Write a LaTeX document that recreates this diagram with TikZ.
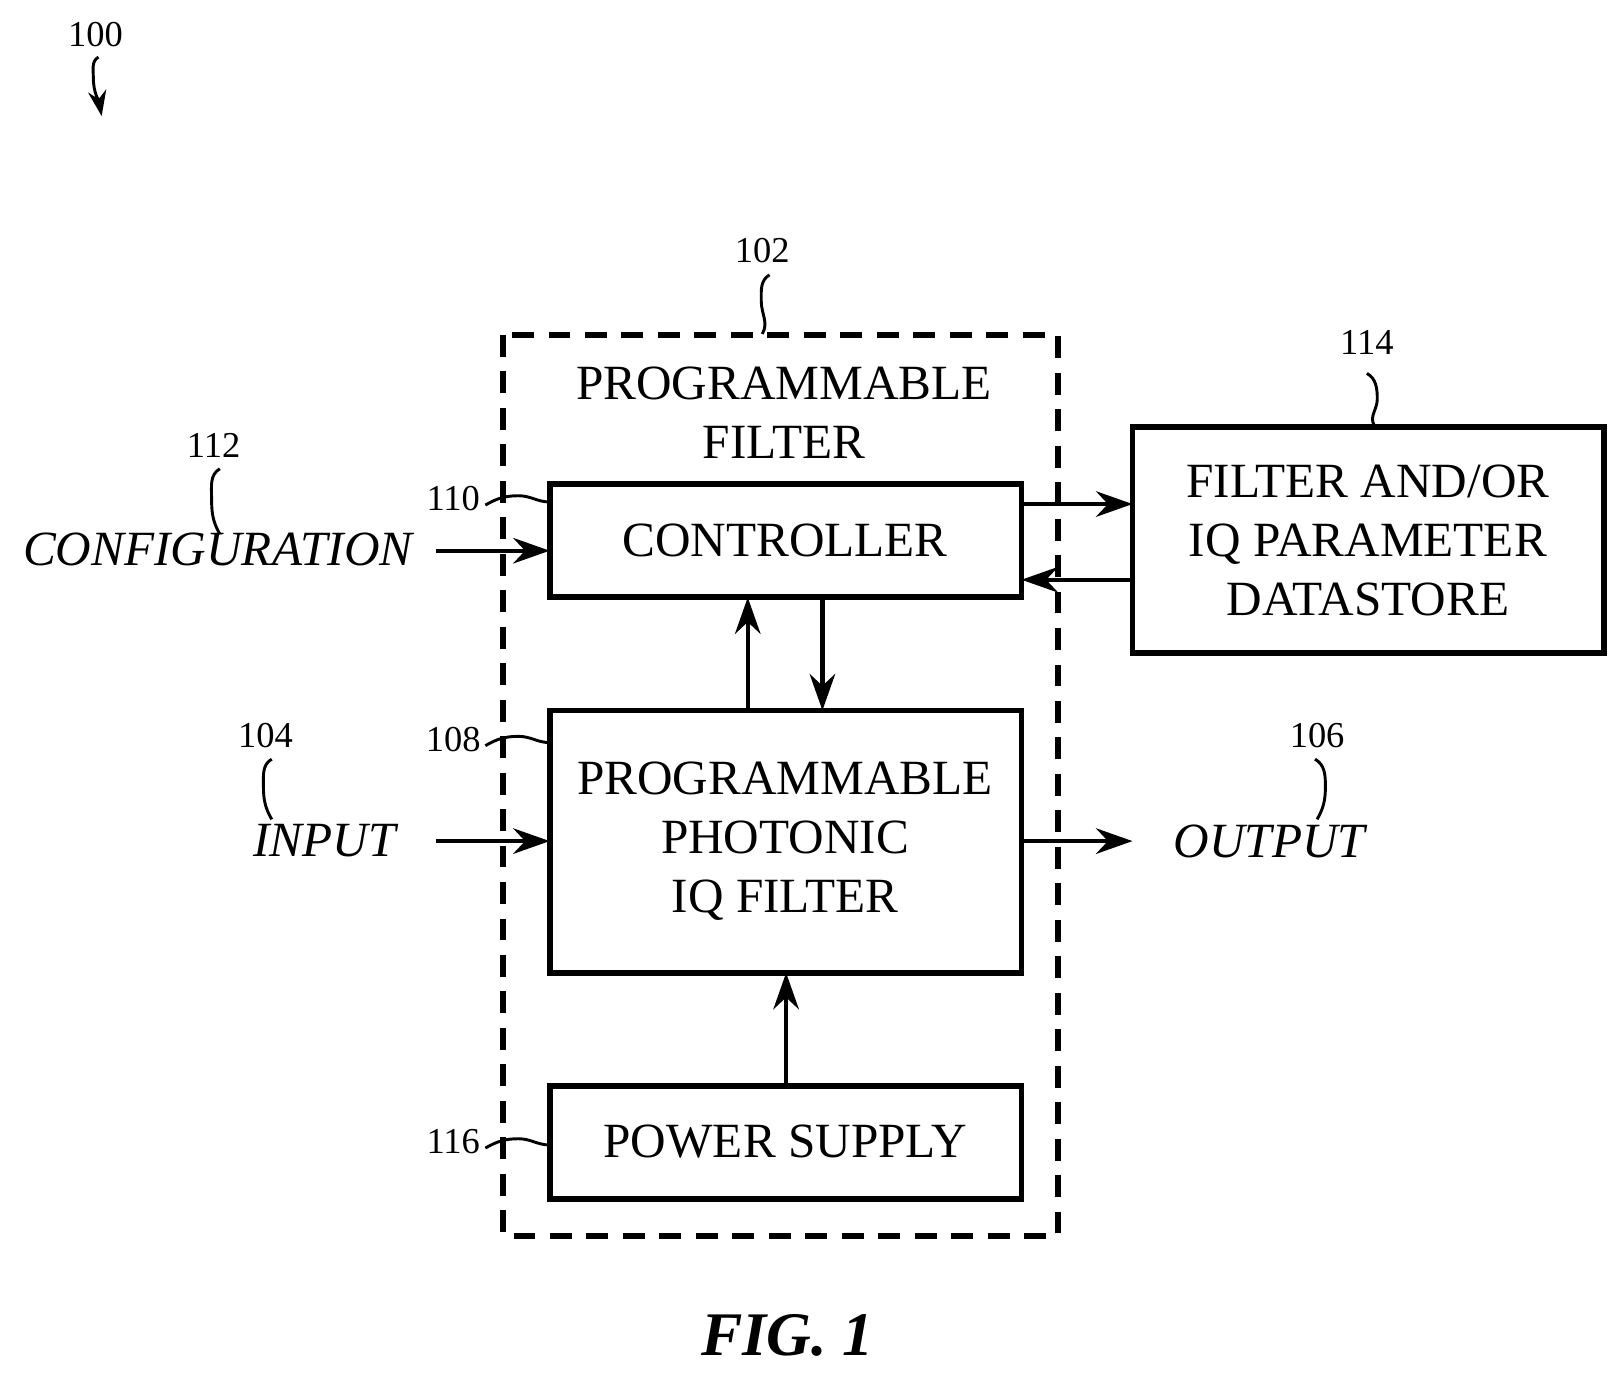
\documentclass[tikz,border=0pt]{standalone}
\usepackage{fontspec}
\setmainfont{Liberation Serif}
\usetikzlibrary{arrows.meta}
\begin{document}
\begin{tikzpicture}[x=0.01cm,y=-0.01cm,
    blk/.style={draw,line width=1.6pt,inner sep=0pt},
    txt/.style={font=\fontsize{13.5}{16.2}\selectfont,align=center},
    ref/.style={font=\fontsize{10}{12}\selectfont},
    sig/.style={font=\fontsize{13.5}{14.5}\selectfont\itshape},
    arr/.style={-{Stealth[length=10pt,width=7pt]},line width=1.2pt},
    lead/.style={line width=0.8pt}]
    \useasboundingbox (0,0) rectangle (1564,1323);
    % frame and blocks
    \draw[line width=1.6pt,dash pattern=on 6pt off 4pt] (485,323) rectangle (1020,1192);
    \node[txt] (pf) at (756,398) {PROGRAMMABLE\\FILTER};
    \draw[blk] (530,467) rectangle (985,576);
    \node[txt] (ctrl) at (757,521) {CONTROLLER};
    \draw[blk] (530,685) rectangle (985,938);
    \node[txt] (filt) at (757,811) {PROGRAMMABLE\\PHOTONIC\\IQ FILTER};
    \draw[blk] (530,1047) rectangle (985,1156);
    \node[txt] (pwr) at (757,1101) {POWER SUPPLY};
    \draw[blk] (1092,412) rectangle (1547,630);
    \node[txt] (ds) at (1319,521) {FILTER AND/OR\\IQ PARAMETER\\DATASTORE};
    % signals
    \node[sig] (cfg) at (210,530) {CONFIGURATION};
    \node[sig] (in) at (313,811) {INPUT};
    \node[sig] (out) at (1224,811) {OUTPUT};
    \coordinate (cfgE) at (420,531);
    \coordinate (inE) at (420,811);
    \coordinate (cIn) at (530,531);
    \coordinate (fIn) at (530,811);
    \coordinate (fOut) at (985,811);
    \coordinate (oW) at (1092,811);
    % connectors
    \draw[arr] (cfgE) -- (cIn);
    \draw[arr] (inE) -- (fIn);
    \draw[arr] (fOut) -- (oW);
    \draw[arr] (985,486) -- (1092,486);
    \draw[arr] (1092,559) -- (985,559);
    \draw[arr] (793,576) -- (793,685);
    \draw[arr] (721,685) -- (721,576);
    \draw[arr] (758,1047) -- (758,938);
    % reference numerals
    \node[ref] (r100) at (92,33) {100};
    \draw[lead,-{Stealth[length=7pt,width=5pt]}] (95,55) to[out=-150,in=90] (90,75) to[out=-90,in=100] (98,112);
    \node[ref] (r102) at (735,242) {102};
    \draw[lead] (742,265) to[out=-150,in=90] (734,290) to[out=-90,in=60] (735,322);
    \node[ref] (r114) at (1318,330) {114};
    \draw[lead] (1318,360) to[out=-30,in=90] (1328,385) to[out=-90,in=120] (1325,410);
    \node[ref] (r112) at (206,429) {112};
    \draw[lead] (212,452) to[out=-150,in=90] (204,480) to[out=-90,in=120] (212,515);
    \node[ref] (r104) at (256,709) {104};
    \draw[lead] (262,732) to[out=-150,in=90] (254,758) to[out=-90,in=120] (262,790);
    \node[ref] (r106) at (1270,709) {106};
    \draw[lead] (1268,732) to[out=-30,in=90] (1278,758) to[out=-90,in=60] (1270,790);
    \node[ref] (r110) at (437,481) {110};
    \draw[lead] (468,487) to[out=30,in=180] (500,478) to[out=0,in=180] (530,484);
    \node[ref] (r108) at (437,713) {108};
    \draw[lead] (468,719) to[out=30,in=180] (500,710) to[out=0,in=180] (530,716);
    \node[ref] (r116) at (437,1101) {116};
    \draw[lead] (468,1107) to[out=30,in=180] (500,1098) to[out=0,in=180] (530,1104);
    \node[font=\fontsize{17}{19}\selectfont\bfseries\itshape] (fig) at (759,1288) {FIG. 1};
\end{tikzpicture}
\end{document}
